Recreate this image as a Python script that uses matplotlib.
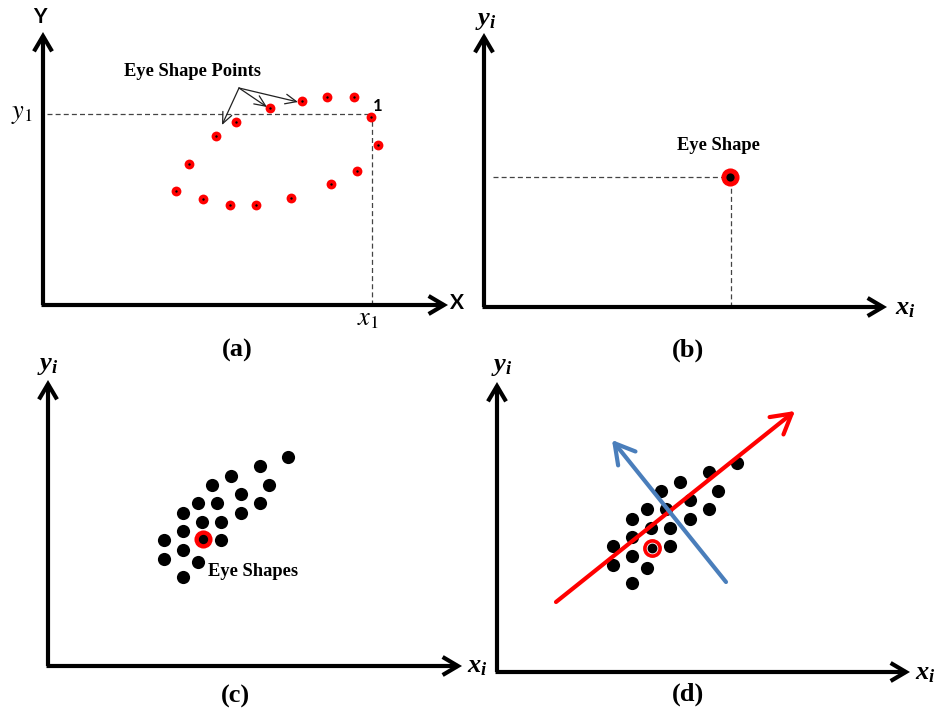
import numpy as np
import matplotlib.pyplot as plt

W, H = 937, 710
SERIF = 'Liberation Serif'

# panel (a): eye shape points (pixel units from the axis origin)
eye_x = [259, 284, 311, 328, 335, 314, 288, 248, 213, 187, 160, 133, 146, 173, 193, 227]
eye_y = [204, 208, 208, 188, 160, 134, 121, 107, 100, 100, 106, 114, 141, 169, 183, 197]
ptr_targets = [(179, 180), (224, 198), (255, 203)]

# panel (b): one eye shape in shape space
shape_x, shape_y = 246, 130

# panel (c)/(d): cluster of eye shapes
clus_x = [240, 212, 183, 221, 164, 193, 150, 169, 212, 135, 193, 154, 173, 135, 173, 116, 135, 116, 150, 135]
clus_y = [209, 200, 190, 181, 181, 172, 163, 163, 163, 153, 153, 144, 144, 135, 126, 126, 116, 107, 104, 89]
mark_c = (155, 127)
mark_d = (155, 124)

# principal directions in (d)
pc1 = [(59, 70), (298, 261)]
pc2 = [(229, 90), (115, 232)]

fig = plt.figure(figsize=(W / 100, H / 100), dpi=100)


def panel(ox, oy, w, h):
    # ox, oy = origin pixel (top-left image coords), w, h = axis lengths in px
    ax = fig.add_axes([ox / W, (H - oy) / H, w / W, h / H])
    ax.set_xlim(0, w)
    ax.set_ylim(0, h)
    ax.axis('off')
    ap = dict(arrowstyle='->,head_length=1.1,head_width=0.65', lw=3, color='black',
              shrinkA=0, shrinkB=0, joinstyle='miter', capstyle='butt')
    ax.annotate('', xy=(w, 0), xytext=(-1.5, 0), arrowprops=ap, annotation_clip=False)
    ax.annotate('', xy=(0, h), xytext=(0, 0), arrowprops=ap, annotation_clip=False)
    return ax


def math_label(ax, x, y, s, size=19, **kw):
    ax.text(x, y, s, fontsize=size, math_fontfamily='custom', clip_on=False, **kw)


plt.rcParams['mathtext.fontset'] = 'custom'
plt.rcParams['mathtext.it'] = 'Liberation Serif:italic:bold'
plt.rcParams['mathtext.rm'] = 'Liberation Serif:bold'

# ---- (a)
ax = panel(43, 305, 405, 273)
x1, y1 = eye_x[3], eye_y[3]
ax.plot([4, x1], [y1 + 3, y1 + 3], ls='--', color='#444444', lw=0.9, dashes=(4, 2.5))
ax.plot([x1 + 1, x1 + 1], [0, y1], ls='--', color='#444444', lw=0.9, dashes=(4, 2.5))
ax.scatter(eye_x, eye_y, s=50, color='red', zorder=3, linewidths=0)
ax.scatter(eye_x, eye_y, s=3, color='black', zorder=4, linewidths=0)
ax.text(150, 234, 'Eye Shape Points', family=SERIF, weight='bold', fontsize=13.3,
        ha='center', va='center')
for tx, ty in ptr_targets:
    ax.annotate('', xy=(tx, ty), xytext=(196, 217),
                arrowprops=dict(arrowstyle='->,head_length=0.8,head_width=0.35', lw=0.9,
                                color='#222222', shrinkA=0, shrinkB=0))
ax.text(-3, 288, 'Y', family='Lato', weight='bold', fontsize=15, ha='center', va='center',
        clip_on=False)
ax.text(414, 2, 'X', family='Lato', weight='bold', fontsize=15, ha='center', va='center',
        clip_on=False)
ax.text(335, 199, '1', family='Lato', weight='bold', fontsize=12, ha='center', va='center')
ax.text(-21, 192, '$y_1$', fontsize=19, math_fontfamily='stix', ha='center', va='center',
        clip_on=False)
ax.text(325, -13, '$x_1$', fontsize=19, math_fontfamily='stix', ha='center', va='center',
        clip_on=False)
ax.text(194, -45, '(a)', family=SERIF, weight='bold', fontsize=19, ha='center', va='center',
        clip_on=False)

# ---- (b)
ax = panel(484, 307, 403, 274)
ax.plot([9, shape_x], [shape_y, shape_y], color='#444444', lw=0.9, dashes=(4, 2.5))
ax.plot([shape_x + 1, shape_x + 1], [0, shape_y], color='#444444', lw=0.9, dashes=(4, 2.5))
ax.scatter([shape_x], [shape_y], s=170, color='red', zorder=3, linewidths=0)
ax.scatter([shape_x], [shape_y], s=35, color='black', zorder=4, linewidths=0)
ax.text(234, 162, 'Eye Shape', family=SERIF, weight='bold', fontsize=13.3,
        ha='center', va='center')
math_label(ax, 2, 288, '$y_i$', ha='center', va='center')
math_label(ax, 421, 0, '$x_i$', ha='center', va='center')
ax.text(204, -43, '(b)', family=SERIF, weight='bold', fontsize=19, ha='center', va='center',
        clip_on=False)

# ---- (c)
ax = panel(48, 666, 414, 286)
ax.scatter(clus_x, clus_y, s=90, color='black', zorder=3, linewidths=0)
ax.scatter([mark_c[0]], [mark_c[1]], s=170, color='red', zorder=4, linewidths=0)
ax.scatter([mark_c[0]], [mark_c[1]], s=45, color='black', zorder=5, linewidths=0)
ax.text(160, 95, 'Eye Shapes', family=SERIF, weight='bold', fontsize=13.3,
        ha='left', va='center')
math_label(ax, 0, 302, '$y_i$', ha='center', va='center')
math_label(ax, 429, 1, '$x_i$', ha='center', va='center')
ax.text(187, -30, '(c)', family=SERIF, weight='bold', fontsize=19, ha='center', va='center',
        clip_on=False)

# ---- (d)
ax = panel(497, 672, 413, 290)
ax.scatter(clus_x, clus_y, s=90, color='black', zorder=3, linewidths=0)
ax.scatter([mark_d[0]], [mark_d[1]], s=120, facecolor='white', edgecolor='red',
           linewidths=2.6, zorder=4)
ax.scatter([mark_d[0]], [mark_d[1]], s=50, color='black', zorder=5, linewidths=0)
ax.annotate('', xy=pc1[1], xytext=pc1[0],
            arrowprops=dict(arrowstyle='->,head_length=1.4,head_width=0.8', lw=3,
                            color='red', shrinkA=0, shrinkB=0), zorder=6)
ax.annotate('', xy=pc2[1], xytext=pc2[0],
            arrowprops=dict(arrowstyle='->,head_length=1.4,head_width=0.8', lw=3,
                            color='#4a7ebb', shrinkA=0, shrinkB=0), zorder=6)
math_label(ax, 5, 307, '$y_i$', ha='center', va='center')
math_label(ax, 428, 0, '$x_i$', ha='center', va='center')
ax.text(191, -22, '(d)', family=SERIF, weight='bold', fontsize=19, ha='center', va='center',
        clip_on=False)

fig.savefig('out.png', dpi=100)
